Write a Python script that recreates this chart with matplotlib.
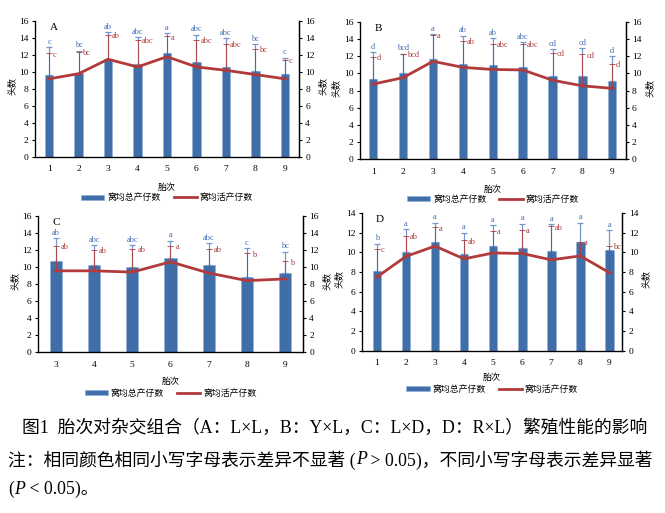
import matplotlib
matplotlib.use("Agg")
import matplotlib.pyplot as plt
import numpy as np

plt.rcParams['font.family'] = ['Liberation Serif', 'Noto Sans CJK SC']

# ---- data ----
parity_ab = [1, 2, 3, 4, 5, 6, 7, 8, 9]
parity_c = [3, 4, 5, 6, 7, 8, 9]
parity_d = [1, 2, 3, 4, 5, 6, 7, 8, 9]

a_total = [9.7, 9.9, 11.5, 11.0, 12.2, 11.2, 10.6, 10.1, 9.8]
a_total_sd = [3.2, 2.6, 3.2, 3.1, 2.4, 3.2, 3.4, 3.2, 1.9]
a_live = [9.2, 9.8, 11.5, 10.6, 11.8, 10.6, 10.2, 9.7, 9.2]
a_live_sd = [3.0, 2.6, 2.9, 3.2, 2.4, 3.2, 3.1, 3.0, 2.2]
a_total_sig = ["c", "bc", "ab", "abc", "a", "abc", "abc", "bc", "c"]
a_live_sig = ["c", "bc", "ab", "abc", "a", "abc", "abc", "bc", "c"]

b_total = [9.4, 10.0, 11.7, 11.1, 11.0, 10.7, 9.7, 9.7, 9.1]
b_total_sd = [3.1, 2.3, 2.9, 3.3, 3.1, 2.9, 3.1, 3.2, 2.9]
b_live = [8.75, 9.5, 11.4, 10.7, 10.45, 10.4, 9.2, 8.55, 8.25]
b_live_sd = [3.15, 2.8, 3.1, 3.1, 2.95, 3.0, 3.2, 3.65, 2.85]
b_total_sig = ["d", "bcd", "a", "ab", "ab", "abc", "cd", "cd", "d"]
b_live_sig = ["d", "bcd", "a", "ab", "abc", "abc", "cd", "cd", "d"]

c_total = [10.65, 10.2, 9.95, 11.05, 10.2, 8.85, 9.35]
c_total_sd = [2.75, 2.4, 2.65, 2.05, 2.6, 3.35, 2.45]
c_live = [9.55, 9.55, 9.4, 10.6, 9.3, 8.4, 8.6]
c_live_sd = [2.95, 2.5, 2.7, 1.9, 2.8, 3.2, 2.05]
c_total_sig = ["ab", "abc", "abc", "a", "abc", "c", "bc"]
c_live_sig = ["ab", "ab", "ab", "a", "ab", "b", "b"]

d_total = [8.1, 10.1, 11.1, 9.85, 10.65, 10.5, 10.2, 11.1, 10.25]
d_total_sd = [2.8, 2.25, 1.95, 2.15, 2.15, 2.45, 2.7, 1.95, 2.0]
d_live = [7.5, 9.6, 10.65, 9.35, 9.95, 9.9, 9.25, 9.65, 7.95]
d_live_sd = [2.9, 2.1, 1.9, 1.9, 2.25, 2.4, 3.4, 1.45, 2.75]
d_total_sig = ["b", "a", "a", "a", "a", "a", "a", "a", "a"]
d_live_sig = ["c", "ab", "a", "ab", "a", "a", "ab", "a", "bc"]

BAR = '#3F6EA8'
BAR_ERR = '#7498CC'
LINE = '#B23A3A'
CJK = ['Noto Sans CJK SC']


def panel(rect, letter, x, total, total_sd, live, live_sd, tsig, lsig,
          ymax, xlim, bar_w, label_y, legend_y):
    ax = fig.add_axes(rect)
    x = np.array(x, dtype=float)
    total = np.array(total)
    live = np.array(live)
    tcap = total + np.array(total_sd)
    lcap = live + np.array(live_sd)

    bars = ax.bar(x, total, width=bar_w, color=BAR, edgecolor='#8FB0DA',
                  linewidth=0.4, zorder=2)
    ax.errorbar(x, total, yerr=[np.zeros_like(total), total_sd], fmt='none',
                ecolor=BAR_ERR, elinewidth=0.9, capsize=2.2, capthick=0.9,
                zorder=3)
    line, = ax.plot(x, live, color=LINE, lw=2.0, zorder=4)
    ax.errorbar(x, live, yerr=[np.zeros_like(live), live_sd], fmt='none',
                ecolor=LINE, elinewidth=0.6, capsize=2.0, capthick=0.6,
                zorder=4)
    # significance letters
    for xi, c, s in zip(x, tcap, tsig):
        ax.text(xi, c + 0.15, s, ha='center', va='bottom', fontsize=6,
                color='#3D6DB5', zorder=5)
    for xi, c, s in zip(x, lcap, lsig):
        ax.text(xi + 0.13, c - 0.15, s, ha='left', va='center', fontsize=6,
                color='#A83A3A', zorder=5)

    ax.set_xlim(*xlim)
    ax.set_ylim(0, ymax)
    ax.set_yticks(np.arange(0, ymax + 1, 2))
    ax.set_xticks(x)
    ax.set_xticklabels([str(int(v)) for v in x])
    ax.spines['top'].set_visible(False)
    for sp in ['left', 'right', 'bottom']:
        ax.spines[sp].set_linewidth(0.9)
    ax.tick_params(axis='x', length=0, pad=6, labelsize=6.8)
    ax.tick_params(axis='y', length=2.5, width=0.8, labelsize=6.8, pad=2)

    ax2 = ax.twinx()
    ax2.set_ylim(0, ymax)
    ax2.set_yticks(np.arange(0, ymax + 1, 2))
    ax2.spines['top'].set_visible(False)
    ax2.spines['right'].set_linewidth(0.9)
    ax2.tick_params(axis='y', length=2.5, width=0.8, labelsize=6.8, pad=2)

    ax.set_ylabel('头数', fontsize=6.5, family=CJK)
    ax.yaxis.set_label_coords(-0.07, 0.52)
    ax2.set_ylabel('头数', fontsize=6.5, family=CJK)
    ax2.yaxis.set_label_coords(1.075, 0.52)
    ax.set_xlabel('胎次', fontsize=6.5, family=CJK)
    ax.xaxis.set_label_coords(0.5, label_y)

    ax.text(0.055, 0.985, letter, transform=ax.transAxes, fontsize=8,
            ha='left', va='top')
    ax.legend([bars, line], ['窝均总产仔数', '窝均活产仔数'], loc='center',
              bbox_to_anchor=(0.5, legend_y), ncol=2,
              frameon=False, prop={'family': CJK, 'size': 6.4},
              handlelength=2.6, handleheight=0.5, columnspacing=1.5,
              handletextpad=0.3)
    return ax


fig = plt.figure(figsize=(6.65, 5.13), dpi=100)

panel([0.0526, 0.694, 0.397, 0.265], 'A', parity_ab, a_total, a_total_sd,
      a_live, a_live_sd, a_total_sig, a_live_sig, 16, (0.52, 9.48), 0.28,
      -0.19, -0.30)
panel([0.541, 0.6895, 0.40, 0.268], 'B', parity_ab, b_total, b_total_sd,
      b_live, b_live_sd, b_total_sig, b_live_sig, 16, (0.55, 9.45), 0.28,
      -0.19, -0.29)
panel([0.0571, 0.3133, 0.3985, 0.266], 'C', parity_c, c_total, c_total_sd,
      c_live, c_live_sd, c_total_sig, c_live_sig, 16, (2.53, 9.47), 0.32,
      -0.18, -0.30)
panel([0.544, 0.3164, 0.392, 0.268], 'D', parity_d, d_total, d_total_sd,
      d_live, d_live_sd, d_total_sig, d_live_sig, 14, (0.48, 9.45), 0.3,
      -0.165, -0.28)


def chain(x, y, pieces, size):
    # place text pieces one after the other (for the italic P)
    r = fig.canvas.get_renderer()
    for s, st in pieces:
        t = fig.text(x, y, s, style=st, fontsize=size, va='center',
                     ha='left')
        bb = t.get_window_extent(renderer=r)
        x += bb.width / fig.bbox.width


chain(0.033, 1 - 428 / 513,
      [('图1  胎次对杂交组合（A：L×L，B：Y×L，C：L×D，D：R×L）繁殖性能的影响', 'normal')],
      12.8)
chain(0.012, 1 - 460 / 513,
      [('注：相同颜色相同小写字母表示差异不显著 (', 'normal'), ('P', 'italic'),
       (' > 0.05)，不同小写字母表示差异显著', 'normal')], 12.8)
chain(0.012, 1 - 489 / 513,
      [('(', 'normal'), ('P', 'italic'), (' < 0.05)。', 'normal')], 12.8)

fig.savefig('out.png', dpi=100)
